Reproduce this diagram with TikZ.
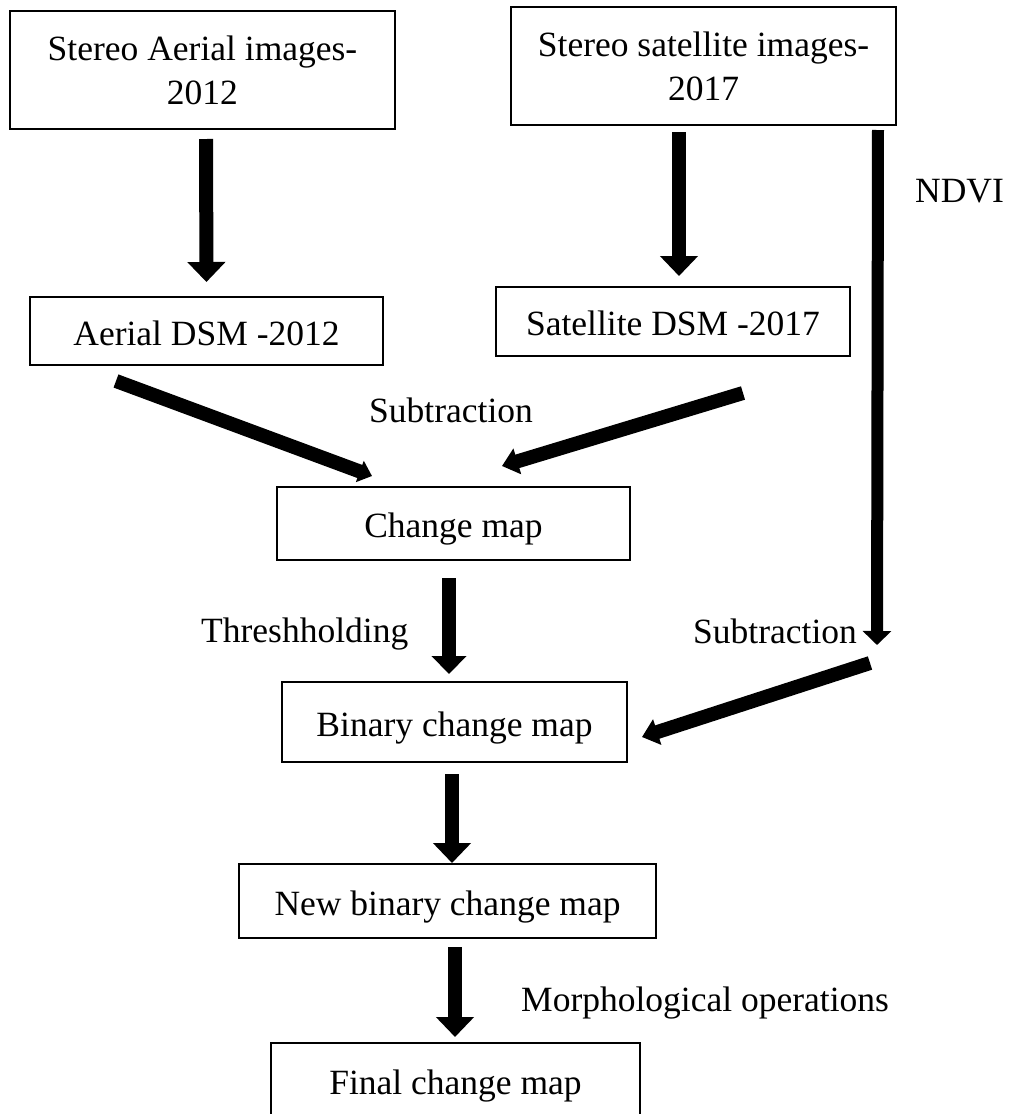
\documentclass[tikz,border=0pt]{standalone}
\usepackage{fontspec}
\setmainfont{Liberation Serif}
\usetikzlibrary{arrows.meta}
\begin{document}
\begin{tikzpicture}[x=1pt,y=-1pt,
  box/.style={draw, line width=2pt, inner sep=0pt, align=center,
    font=\fontsize{35.5}{44}\selectfont},
  onebox/.style={box, text height=28pt, text depth=0pt},
  lbl/.style={anchor=base west, inner sep=0pt, font=\fontsize{35.5}{44}\selectfont},
  flow/.style={line width=14pt, -{Triangle[width=37pt,length=20pt]}},
  slant/.style={line width=14pt, -{Triangle[width=26pt,length=16pt]}},
  ndvi/.style={line width=12pt, -{Triangle[width=28pt,length=14pt]}}
]
\useasboundingbox (0,0) rectangle (1011,1114);
\clip (0,0) rectangle (1011,1114);

% boxes
\node[box, minimum width=385pt, minimum height=118pt] (b1) at (202.5,70) {Stereo Aerial images-\\2012};
\node[box, minimum width=385pt, minimum height=118pt] (b2) at (703.5,66) {Stereo satellite images-\\2017};
\node[onebox, minimum width=353pt, minimum height=68pt] (b3) at (206.5,331) {Aerial DSM -2012};
\node[onebox, minimum width=354pt, minimum height=69pt] (b4) at (673,321.5) {Satellite DSM -2017};
\node[onebox, minimum width=353pt, minimum height=73pt] (b5) at (453.5,523.5) {Change map};
\node[onebox, minimum width=345pt, minimum height=80pt] (b6) at (454.5,722) {Binary change map};
\node[onebox, minimum width=417pt, minimum height=74pt] (b7) at (447.5,901) {New binary change map};
\node[onebox, minimum width=369pt, minimum height=74pt] (b8) at (455.5,1080) {Final change map};

% labels
\node[lbl] (lndvi) at (915,202) {NDVI};
\node[lbl] (lsub1) at (369,422) {Subtraction};
\node[lbl] (lthr) at (201,642) {Threshholding};
\node[lbl] (lsub2) at (693,643) {Subtraction};
\node[lbl] (lmor) at (521,1011) {Morphological operations};

% free ends of the NDVI path
\coordinate (ndviend) at (877,645);
\coordinate (a7start) at (870,663);

% connectors
\draw[flow, shorten <=9pt, shorten >=14pt] ([xshift=-0.5pt]b1.south -| b3.north) -- (b3.north);
\draw[flow, shorten <=6pt, shorten >=10pt] ([xshift=-24.5pt]b2.south) -- ([xshift=6pt]b4.north);
\draw[ndvi, shorten <=4pt] ([xshift=-19pt]b2.south east) -- (ndviend);
\draw[slant, -{Triangle[width=22pt,length=13pt]}] ([xshift=-90.5pt,yshift=-15pt]b3.south) -- ([xshift=-81.5pt,yshift=10pt]b5.north);
\draw[slant] ([xshift=70pt,yshift=-36pt]b4.south) -- ([xshift=48.5pt,yshift=20pt]b5.north);
\draw[flow, -{Triangle[width=34pt,length=18pt]}, shorten <=17pt, shorten >=7pt] ([xshift=-4.5pt]b5.south) -- ([xshift=-5.5pt]b6.north);
\draw[slant] (a7start) -- ([xshift=14pt,yshift=-15pt]b6.east);
\draw[flow, shorten <=11pt] ([xshift=-2.5pt]b6.south) -- ([xshift=4.5pt]b7.north);
\draw[flow, shorten <=8pt, shorten >=5pt] ([xshift=7.5pt]b7.south) -- ([xshift=-0.5pt]b8.north);
\end{tikzpicture}
\end{document}
